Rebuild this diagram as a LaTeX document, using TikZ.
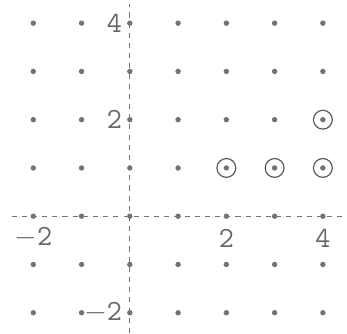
\documentclass[tikz,border=0pt]{standalone}
\usepackage{tikz}
\usetikzlibrary{positioning}
\tikzset{
  % --- lattice points -------------------------------------------------
  latpt/.style   ={circle, fill=black!55, inner sep=0, minimum size=3.2pt},
  ring/.style    ={circle, draw=black!65, line width=0.7pt, inner sep=0,
                   minimum size=3.9mm},
  % --- axes and labels ------------------------------------------------
  axisline/.style={black!55, line width=0.6pt, dash pattern=on 3pt off 3pt},
  ticklab/.style ={font=\LARGE\ttfamily, text=black!60, inner sep=1pt},
}

\begin{document}
\begin{tikzpicture}
  \useasboundingbox (-2.69,-2.42) rectangle (4.50,4.48);

  % ============================= axes =============================
  \coordinate (xl) at (-2.45,0);
  \coordinate (xr) at (4.50,0);
  \coordinate (yb) at (0,-2.42);
  \coordinate (yt) at (0,4.40);
  \draw[axisline] (xl) -- (xr);
  \draw[axisline] (yb) -- (yt);

  % ============================= lattice =============================
  \foreach \x in {-2,...,4}
    \foreach \y in {-2,...,4}
      \node[latpt] (p\x\y) at (\x,\y) {};

  % ----- marked points -----
  \foreach \q in {42,21,31,41}
    \node[ring] (r\q) at (p\q) {};

  % ============================= tick labels =============================
  \node[ticklab] (xm2) at (-2,-0.45) {$-$2};
  \node[ticklab] (x2)  at (2,-0.45)  {2};
  \node[ticklab] (x4)  at (4,-0.45)  {4};
  \node[ticklab, anchor=east] (y4)  at (-0.12,4)  {4};
  \node[ticklab, anchor=east] (y2)  at (-0.12,2)  {2};
  \node[ticklab, anchor=east] (ym2) at (-0.12,-2) {$-$2};

\end{tikzpicture}
\end{document}
